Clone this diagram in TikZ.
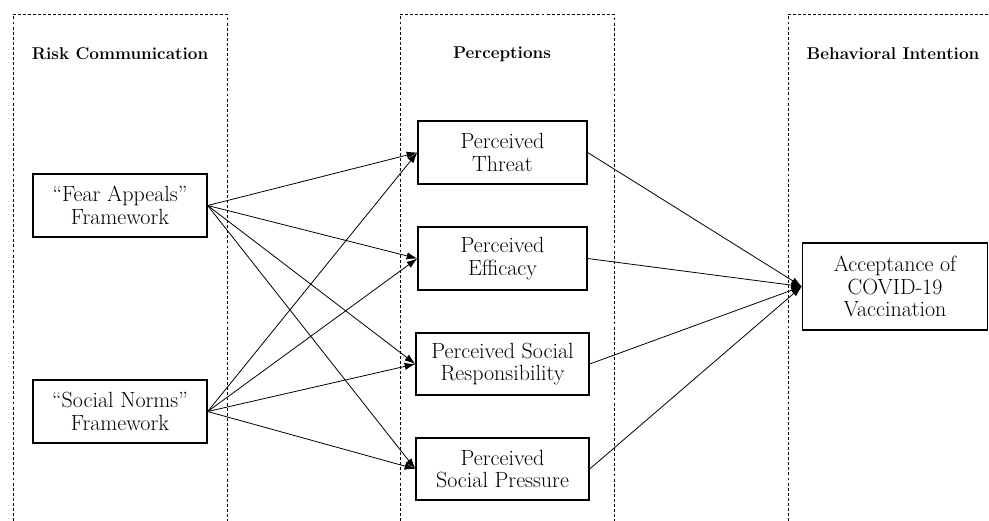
\documentclass[tikz,border=0pt]{standalone}
\usepackage{tikz}
\usetikzlibrary{arrows.meta,positioning}

\newcommand{\boxfont}{\fontsize{16.5}{17}\selectfont}
\newcommand{\headfont}{\bfseries\fontsize{12.8}{14}\selectfont}

\tikzset{
  column/.style={dash pattern=on 2.2pt off 1.6pt, line width=0.6pt},
  heading/.style={font=\headfont},
  framebox/.style={draw, line width=1pt, align=center, font=\boxfont,
    inner sep=2pt},
  link/.style={line width=0.6pt, -{Latex[length=8pt,width=5.5pt]}}
}

\begin{document}
\begin{tikzpicture}[x=0.75pt,y=-0.75pt]
            \useasboundingbox (0,0) rectangle (989,521);

            % Columns
            \draw[column] (13,521) -- (13,14) -- (227,14) -- (227,521);
            \draw[column] (400,521) -- (400,14) -- (614,14) -- (614,521);
            \draw[column] (788,521) -- (788,14) -- (989,14);

            \node[heading] (hrisk) at (120,54) {Risk Communication};
            \node[heading] (hperc) at (502,54) {Perceptions};
            \node[heading] (hbeh) at (893,54) {Behavioral Intention};

            % Risk communication frameworks
            \node[framebox, minimum width=174*0.75pt, minimum height=63*0.75pt]
                (fear) at (120,205.5) {``Fear Appeals''\\Framework};
            \node[framebox, minimum width=174*0.75pt, minimum height=63*0.75pt]
                (norms) at (120,411.5) {``Social Norms''\\Framework};

            % Perceptions
            \node[framebox, minimum width=169*0.75pt, minimum height=63*0.75pt]
                (threat) at (502.5,152.5) {Perceived\\Threat};
            \node[framebox, minimum width=169*0.75pt, minimum height=63*0.75pt]
                (efficacy) at (502.5,258.5) {Perceived\\Efficacy};
            \node[framebox, minimum width=173*0.75pt, minimum height=62*0.75pt]
                (resp) at (502.5,364) {Perceived Social\\Responsibility};
            \node[framebox, minimum width=173*0.75pt, minimum height=62*0.75pt]
                (press) at (502.5,469) {Perceived\\Social Pressure};

            % Intention
            \node[framebox, minimum width=185*0.75pt, minimum height=87*0.75pt]
                (accept) at (895,286.5) {Acceptance of\\COVID-19\\Vaccination};

            % Paths
            \foreach \src in {fear,norms} {
                \foreach \dst in {threat,efficacy,resp,press} {
                    \draw[link] (\src.east) -- (\dst.west);
                }
            }
            \foreach \src in {threat,efficacy,resp,press} {
                \draw[link] (\src.east) -- (accept.west);
            }
        \end{tikzpicture}
\end{document}
